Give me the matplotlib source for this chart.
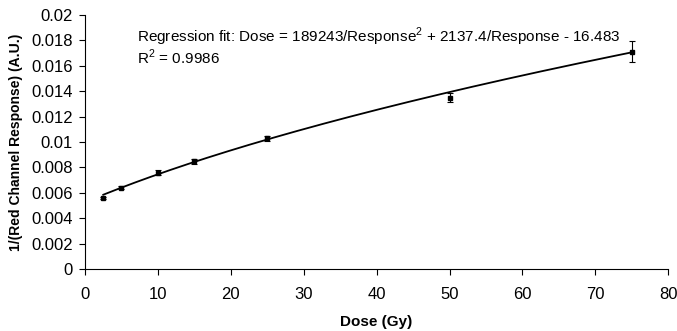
import numpy as np
import matplotlib
matplotlib.use("Agg")
import matplotlib.pyplot as plt

plt.rcParams['font.family'] = ['Liberation Sans', 'DejaVu Sans']
plt.rcParams['mathtext.fontset'] = 'custom'
plt.rcParams['mathtext.rm'] = 'Liberation Sans'

# measured film response (1/red channel) at each delivered dose
dose = [2.5, 5, 10, 15, 25, 50, 75]
inv_response = [0.0056, 0.0064, 0.0076, 0.0085, 0.0103, 0.0135, 0.0171]
inv_response_err = [0.0001, 0.0001, 0.0002, 0.0002, 0.0002, 0.00036, 0.00082]

# regression fit coefficients: Dose = a/R^2 + b/R + c
fit_a = 189243
fit_b = 2137.4
fit_c = -16.483
fit_r2 = 0.9986

y_ticks = [0, 0.002, 0.004, 0.006, 0.008, 0.01, 0.012, 0.014, 0.016, 0.018, 0.02]
y_tick_labels = ['0', '0.002', '0.004', '0.006', '0.008', '0.01', '0.012',
                 '0.014', '0.016', '0.018', '0.02']
x_ticks = [0, 10, 20, 30, 40, 50, 60, 70, 80]

# invert the fit to get 1/R as a function of dose
d_fit = np.linspace(dose[0], dose[-1], 200)
y_fit = (-fit_b + np.sqrt(fit_b ** 2 + 4 * fit_a * (d_fit - fit_c))) / (2 * fit_a)

fig = plt.figure(figsize=(6.77, 3.31), dpi=100)
ax = fig.add_axes([0.1256, 0.187, 0.8614, 0.768])

ax.plot(d_fit, y_fit, color='black', lw=1.3)
ax.errorbar(dose, inv_response, yerr=inv_response_err, fmt='s', color='black',
            ms=2.5, elinewidth=0.8, capsize=2.5, capthick=0.8)

ax.set_xlim(0, 80)
ax.set_ylim(0, 0.02)
ax.set_xticks(x_ticks)
ax.set_yticks(y_ticks)
ax.set_yticklabels(y_tick_labels)
ax.tick_params(labelsize=12, length=4, width=0.8, direction='out')
ax.tick_params(axis='x', pad=9)
ax.tick_params(axis='y', pad=5)
ax.spines['top'].set_visible(False)
ax.spines['right'].set_visible(False)
for s in ['left', 'bottom']:
    ax.spines[s].set_linewidth(0.8)

ax.set_xlabel('Dose (Gy)', fontsize=11, fontweight='bold', labelpad=9)
ax.set_ylabel('1/(Red Channel Response) (A.U.)', fontsize=10, fontweight='bold', labelpad=6)

fig.text(137 / 677, 1 - 42 / 331,
         'Regression fit: Dose = %d/Response$^2$ + %.1f/Response - %.3f' % (fit_a, fit_b, -fit_c),
         fontsize=11, ha='left', va='baseline')
fig.text(137 / 677, 1 - 64 / 331, 'R$^2$ = %.4f' % fit_r2,
         fontsize=11, ha='left', va='baseline')

fig.savefig('out.png', dpi=100)
